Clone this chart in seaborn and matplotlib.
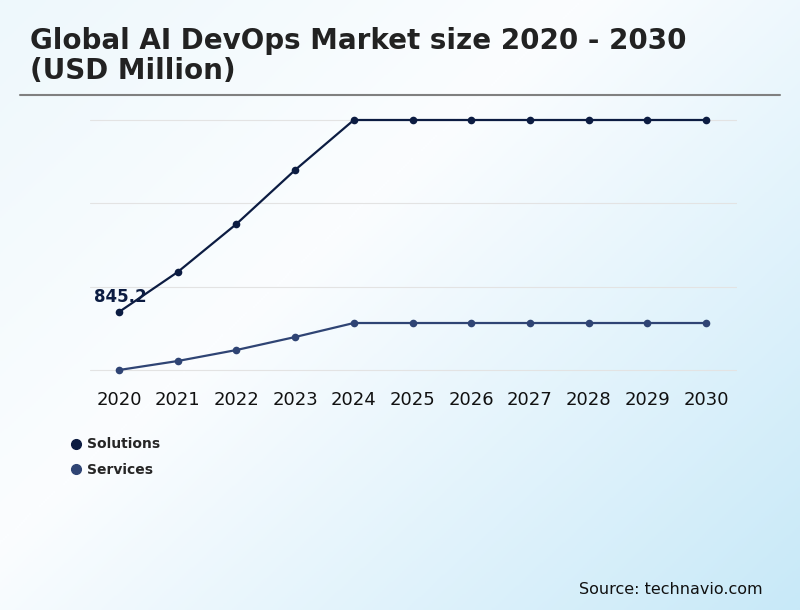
import numpy as np
import pandas as pd
import seaborn as sns
import matplotlib.pyplot as plt
from matplotlib.colors import LinearSegmentedColormap
from matplotlib.lines import Line2D

sns.set_theme(style="whitegrid")
plt.rcParams['font.family'] = ['DejaVu Sans']

# data (arbitrary units except the labelled 845.2)
years = [2020, 2021, 2022, 2023, 2024, 2025, 2026, 2027, 2028, 2029, 2030]
solutions = [845.2, 1245, 1725, 2265, 2765, 2765, 2765, 2765, 2765, 2765, 2765]
services = [265, 355, 465, 595, 735, 735, 735, 735, 735, 735, 735]
grid_values = [265, 1098, 1932, 2765]
series_names = ['Solutions', 'Services']
series_colors = ['#0c1c42', '#2f4474']

df = pd.DataFrame({'Year': years * 2,
                   'Value': solutions + services,
                   'Segment': ['Solutions'] * len(years) + ['Services'] * len(years)})

fig = plt.figure(figsize=(8, 6.1), dpi=100)

# background gradient
bg = fig.add_axes([0, 0, 1, 1], zorder=-10)
xx, yy = np.meshgrid(np.linspace(0, 1, 400), np.linspace(0, 1, 300))
t = (xx * 0.55 + yy * 0.45)
cmap = LinearSegmentedColormap.from_list('bg', [(0, '#eef8fc'), (0.4, '#fbfdff'), (1, '#c8e9f8')])
bg.imshow(t, cmap=cmap, aspect='auto', extent=[0, 1, 0, 1], origin='upper')
bg.axis('off')

ax = fig.add_axes([0.1125, 0.3803, 0.8088, 0.4361])
ax.set_facecolor('none')
sns.lineplot(data=df, x='Year', y='Value', hue='Segment', palette=series_colors,
             marker='o', markersize=5.5, markeredgewidth=0, linewidth=1.6,
             legend=False, ax=ax)

ax.set_xlim(2019.506, 2030.528)
ax.set_ylim(185, 2845)
ax.set_xticks(years)
ax.set_xticklabels([str(y) for y in years], fontsize=13, color='#111111')
ax.set_yticks(grid_values)
ax.set_yticklabels([])
ax.tick_params(axis='both', length=0)
ax.tick_params(axis='x', pad=9)
ax.grid(axis='x', visible=False)
ax.grid(axis='y', color='#e3e3e3', linewidth=0.8)
for s in ax.spines.values():
    s.set_visible(False)
ax.set_xlabel('')
ax.set_ylabel('')

ax.annotate('845.2', (years[0], solutions[0]), xytext=(-18, 7), textcoords='offset points',
            fontsize=12, fontweight='bold', color=series_colors[0])

# title and rule
fig.text(30 / 800, 1 - 56 / 610, 'Global AI DevOps Market size 2020 - 2030\n(USD Million)',
         fontsize=20, fontweight='heavy', color='#222222', va='center', ha='left',
         linespacing=1.12)
fig.add_artist(Line2D([20 / 800, 780 / 800], [1 - 95 / 610, 1 - 95 / 610],
                      color='#808080', linewidth=1.5))

# legend
handles = [Line2D([], [], linestyle='none', marker='o', markersize=7, color=c) for c in series_colors]
fig.legend(handles, series_names, loc='upper left', bbox_to_anchor=(59 / 800, 1 - 425 / 610),
           frameon=False, handlelength=0.6, handletextpad=0.5, labelspacing=0.8,
           prop={'weight': 'bold', 'size': 10})

fig.text(763 / 800, 1 - 589 / 610, 'Source: technavio.com', fontsize=11.5, ha='right', va='center',
         color='#111111')

fig.savefig('out.png', dpi=100)
